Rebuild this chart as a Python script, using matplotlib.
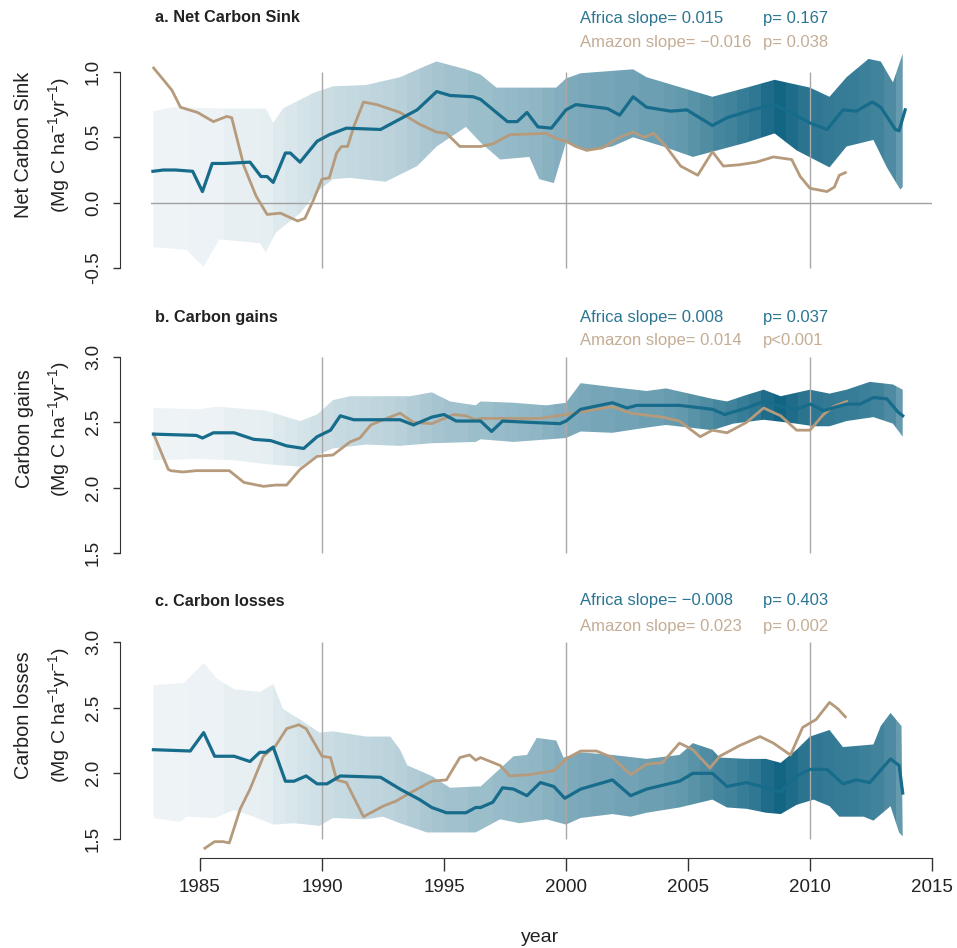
import numpy as np
import matplotlib
matplotlib.use('Agg')
import matplotlib.pyplot as plt
from matplotlib.patches import Polygon
from matplotlib.colors import to_rgb

plt.rcParams['font.family'] = ['Liberation Sans', 'DejaVu Sans']
plt.rcParams['mathtext.fontset'] = 'custom'
plt.rcParams['mathtext.rm'] = 'Liberation Sans'
plt.rcParams['mathtext.it'] = 'Liberation Sans:italic'

# ---- data ----
# a. Net carbon sink
afr_a_year = [1983.07, 1983.5, 1984.0, 1984.7, 1985.1, 1985.5, 1986.0, 1987.05, 1987.5, 1987.75, 1988.0,
              1988.5, 1988.7, 1989.1, 1989.8, 1990.3, 1991.0, 1992.4, 1993.0, 1993.9, 1994.7, 1995.25,
              1996.2, 1996.5, 1997.6, 1998.0, 1998.4, 1998.85, 1999.4, 2000.0, 2000.4, 2001.7, 2002.2,
              2002.75, 2003.3, 2004.3, 2004.95, 2006.0, 2006.6, 2007.65, 2008.5, 2009.0, 2010.0, 2010.7,
              2011.35, 2011.9, 2012.55, 2012.9, 2013.5, 2013.65, 2013.9]
afr_a_val = [0.24, 0.25, 0.25, 0.24, 0.085, 0.30, 0.30, 0.31, 0.20, 0.20, 0.155,
             0.38, 0.38, 0.31, 0.47, 0.52, 0.57, 0.56, 0.62, 0.71, 0.85, 0.82,
             0.81, 0.79, 0.62, 0.62, 0.69, 0.58, 0.57, 0.71, 0.75, 0.72, 0.67,
             0.81, 0.73, 0.70, 0.71, 0.59, 0.65, 0.71, 0.75, 0.71, 0.61, 0.56,
             0.71, 0.70, 0.77, 0.73, 0.56, 0.55, 0.71]
ama_a_year = [1983.1, 1983.5, 1983.85, 1984.2, 1984.9, 1985.55, 1986.1, 1986.3, 1986.8, 1987.3, 1987.75,
              1988.3, 1989.0, 1989.3, 1989.65, 1990.0, 1990.3, 1990.6, 1990.8, 1991.05, 1991.3, 1991.7,
              1992.25, 1993.2, 1994.0, 1994.7, 1995.1, 1995.65, 1996.5, 1997.0, 1997.7, 1999.2, 1999.6,
              2000.0, 2000.4, 2000.85, 2001.5, 2002.2, 2002.75, 2003.2, 2003.6, 2004.1, 2004.7, 2005.4,
              2005.8, 2006.0, 2006.45, 2007.1, 2007.8, 2008.5, 2009.25, 2009.6, 2010.0, 2010.7, 2011.0,
              2011.2, 2011.45]
ama_a_val = [1.03, 0.94, 0.86, 0.73, 0.69, 0.62, 0.66, 0.65, 0.28, 0.05, -0.09,
             -0.08, -0.14, -0.12, 0.02, 0.18, 0.19, 0.38, 0.43, 0.43, 0.58, 0.77,
             0.75, 0.69, 0.60, 0.54, 0.53, 0.43, 0.43, 0.45, 0.52, 0.53, 0.49,
             0.47, 0.43, 0.40, 0.42, 0.50, 0.54, 0.50, 0.53, 0.43, 0.28, 0.21,
             0.33, 0.39, 0.28, 0.29, 0.31, 0.35, 0.33, 0.20, 0.11, 0.085, 0.12,
             0.21, 0.23]
upr_a_year = [1983.09, 1983.9, 1985.8, 1987.7, 1988.0, 1988.4, 1989.65, 1990.45, 1991.8, 1993.2, 1994.3,
              1994.7, 1995.9, 1996.5, 1997.15, 1999.6, 2000.0, 2000.6, 2002.75, 2003.3, 2006.0, 2007.4,
              2008.55, 2010.0, 2010.8, 2011.5, 2012.4, 2012.9, 2013.4, 2013.8]
upr_a_val = [0.70, 0.73, 0.72, 0.72, 0.61, 0.72, 0.84, 0.89, 0.90, 0.96, 1.05,
             1.08, 1.02, 0.98, 0.88, 0.88, 0.95, 0.99, 1.02, 0.96, 0.81, 0.88,
             0.94, 0.88, 0.81, 0.96, 1.10, 1.08, 0.92, 1.14]
lwr_a_year = [1983.09, 1984.45, 1985.14, 1985.8, 1987.45, 1987.7, 1988.1, 1989.1, 1989.9, 1990.45, 1991.15,
              1992.6, 1993.9, 1994.7, 1995.9, 1996.2, 1996.5, 1997.3, 1998.5, 1998.9, 1999.5, 2000.0,
              2000.95, 2001.9, 2002.75, 2003.98, 2005.2, 2006.0, 2007.4, 2008.55, 2009.45, 2010.8, 2011.5,
              2012.6, 2013.15, 2013.7, 2013.8]
lwr_a_val = [-0.34, -0.36, -0.49, -0.28, -0.31, -0.38, -0.23, -0.08, 0.10, 0.18, 0.19,
             0.16, 0.28, 0.43, 0.58, 0.52, 0.46, 0.33, 0.35, 0.18, 0.15, 0.46,
             0.40, 0.43, 0.50, 0.43, 0.35, 0.39, 0.46, 0.53, 0.40, 0.27, 0.43,
             0.48, 0.27, 0.10, 0.12]

# b. Carbon gains
afr_b_year = [1983.09, 1984.85, 1985.1, 1985.55, 1986.4, 1987.2, 1987.9, 1988.55, 1989.25, 1989.8, 1990.35,
              1990.75, 1991.3, 1993.2, 1993.75, 1994.5, 1995.0, 1995.5, 1996.3, 1996.5, 1996.95, 1997.4,
              1998.5, 1999.75, 2000.0, 2000.6, 2001.9, 2002.5, 2002.9, 2004.65, 2006.0, 2006.5, 2007.4,
              2008.1, 2008.8, 2009.45, 2010.0, 2010.55, 2011.5, 2012.05, 2012.6, 2013.15, 2013.6, 2013.8]
afr_b_val = [2.41, 2.40, 2.38, 2.42, 2.42, 2.37, 2.36, 2.32, 2.30, 2.39, 2.44,
             2.55, 2.52, 2.52, 2.48, 2.54, 2.56, 2.51, 2.51, 2.51, 2.43, 2.51,
             2.50, 2.49, 2.51, 2.60, 2.65, 2.61, 2.63, 2.63, 2.60, 2.56, 2.61,
             2.66, 2.62, 2.60, 2.64, 2.59, 2.64, 2.64, 2.69, 2.68, 2.58, 2.55]
ama_b_year = [1983.1, 1983.7, 1983.8, 1984.3, 1984.85, 1986.2, 1986.8, 1987.6, 1988.1, 1988.55, 1989.1,
              1989.8, 1990.45, 1991.15, 1991.55, 1992.0, 1992.65, 1993.2, 1993.75, 1994.5, 1995.4, 1995.9,
              1996.3, 1996.5, 1997.3, 1998.9, 2000.0, 2001.9, 2002.65, 2003.95, 2004.65, 2005.5, 2006.0,
              2006.6, 2007.4, 2008.1, 2008.8, 2009.45, 2010.0, 2010.55, 2010.95, 2011.5]
ama_b_val = [2.41, 2.14, 2.13, 2.12, 2.13, 2.13, 2.04, 2.01, 2.02, 2.02, 2.14,
             2.24, 2.25, 2.35, 2.38, 2.48, 2.53, 2.57, 2.50, 2.49, 2.56, 2.55,
             2.52, 2.53, 2.53, 2.53, 2.56, 2.62, 2.57, 2.54, 2.51, 2.39, 2.44,
             2.42, 2.50, 2.61, 2.55, 2.44, 2.44, 2.56, 2.62, 2.66]
upr_b_year = [1983.09, 1984.95, 1985.7, 1987.7, 1989.1, 1989.8, 1990.45, 1991.15, 1992.5, 1993.6, 1994.5,
              1995.25, 1996.3, 1996.5, 1997.85, 1999.2, 2000.0, 2000.6, 2001.9, 2003.3, 2004.1, 2006.0,
              2006.6, 2007.4, 2008.1, 2008.8, 2010.0, 2010.8, 2011.5, 2012.45, 2013.4, 2013.8]
upr_b_val = [2.61, 2.60, 2.62, 2.59, 2.51, 2.56, 2.67, 2.70, 2.70, 2.70, 2.73,
             2.66, 2.63, 2.66, 2.65, 2.63, 2.65, 2.80, 2.77, 2.74, 2.76, 2.68,
             2.66, 2.71, 2.75, 2.70, 2.75, 2.72, 2.75, 2.81, 2.79, 2.75]
lwr_b_year = [1983.09, 1984.95, 1986.4, 1987.7, 1989.1, 1989.8, 1990.45, 1991.8, 1993.2, 1994.5, 1996.3,
              1996.5, 1997.85, 2000.0, 2000.6, 2001.9, 2003.3, 2004.1, 2006.0, 2006.85, 2008.1, 2009.45,
              2010.15, 2010.8, 2011.5, 2012.6, 2013.4, 2013.8]
lwr_b_val = [2.21, 2.22, 2.21, 2.18, 2.16, 2.25, 2.30, 2.33, 2.32, 2.34, 2.35,
             2.37, 2.35, 2.38, 2.43, 2.42, 2.46, 2.48, 2.44, 2.49, 2.52, 2.49,
             2.47, 2.47, 2.51, 2.54, 2.49, 2.39]

# c. Carbon losses
afr_c_year = [1983.09, 1984.6, 1985.15, 1985.6, 1986.4, 1987.05, 1987.45, 1987.7, 1988.0, 1988.5, 1988.85,
              1989.35, 1989.8, 1990.2, 1990.75, 1992.4, 1993.2, 1994.0, 1994.5, 1995.1, 1995.9, 1996.3,
              1996.5, 1997.0, 1997.4, 1997.85, 1998.4, 1998.95, 1999.5, 1999.95, 2000.6, 2001.9, 2002.65,
              2003.3, 2004.65, 2005.2, 2006.0, 2006.6, 2007.4, 2008.2, 2008.8, 2009.45, 2010.0, 2010.7,
              2011.35, 2011.9, 2012.45, 2013.3, 2013.65, 2013.8]
afr_c_val = [2.18, 2.17, 2.31, 2.13, 2.13, 2.09, 2.16, 2.16, 2.20, 1.94, 1.94,
             1.98, 1.92, 1.92, 1.98, 1.97, 1.88, 1.80, 1.74, 1.70, 1.70, 1.74,
             1.74, 1.78, 1.89, 1.88, 1.83, 1.93, 1.90, 1.81, 1.88, 1.95, 1.83,
             1.88, 1.94, 2.00, 2.00, 1.90, 1.93, 1.89, 1.86, 1.98, 2.03, 2.03,
             1.92, 1.95, 1.93, 2.11, 2.06, 1.85]
ama_c_year = [1985.2, 1985.6, 1985.95, 1986.2, 1986.65, 1987.05, 1987.6, 1988.1, 1988.55, 1989.05, 1989.35,
              1990.0, 1990.35, 1990.6, 1991.0, 1991.35, 1991.7, 1992.0, 1992.5, 1993.05, 1993.6, 1994.5,
              1995.1, 1995.65, 1996.05, 1996.3, 1996.5, 1997.3, 1997.7, 1998.5, 1999.5, 2000.0, 2000.6,
              2001.25, 2001.9, 2002.65, 2003.3, 2003.95, 2004.65, 2005.2, 2005.9, 2006.3, 2007.1, 2007.95,
              2008.5, 2009.2, 2009.7, 2010.25, 2010.8, 2011.15, 2011.45]
ama_c_val = [1.43, 1.48, 1.48, 1.47, 1.73, 1.88, 2.13, 2.21, 2.34, 2.37, 2.34,
             2.13, 2.12, 1.95, 1.93, 1.80, 1.67, 1.70, 1.75, 1.79, 1.85, 1.94,
             1.95, 2.12, 2.14, 2.10, 2.12, 2.06, 1.98, 1.99, 2.02, 2.11, 2.17,
             2.17, 2.12, 1.99, 2.07, 2.08, 2.23, 2.18, 2.04, 2.13, 2.21, 2.28,
             2.23, 2.14, 2.35, 2.41, 2.54, 2.49, 2.43]
upr_c_year = [1983.09, 1984.35, 1985.15, 1985.7, 1986.4, 1987.45, 1988.0, 1988.4, 1989.1, 1989.9, 1990.45,
              1991.8, 1992.8, 1993.2, 1993.5, 1994.5, 1995.25, 1996.3, 1996.5, 1997.85, 1998.4, 1998.8,
              1999.6, 1999.9, 2000.6, 2001.9, 2003.3, 2004.65, 2005.2, 2006.0, 2006.3, 2007.4, 2008.2,
              2008.8, 2009.45, 2010.0, 2010.8, 2011.35, 2012.6, 2012.9, 2013.3, 2013.75]
upr_c_val = [2.67, 2.69, 2.84, 2.72, 2.64, 2.62, 2.68, 2.49, 2.41, 2.31, 2.32,
             2.28, 2.28, 2.18, 2.06, 1.98, 1.89, 1.90, 1.90, 2.13, 2.14, 2.27,
             2.25, 2.12, 2.16, 2.14, 2.11, 2.14, 2.23, 2.18, 2.12, 2.11, 2.11,
             2.08, 2.18, 2.28, 2.33, 2.20, 2.22, 2.36, 2.46, 2.36]
lwr_c_year = [1983.09, 1984.2, 1984.45, 1985.6, 1986.4, 1987.2, 1988.0, 1988.85, 1989.9, 1990.45, 1991.8,
              1992.5, 1993.2, 1994.3, 1995.25, 1996.3, 1996.5, 1997.3, 1998.1, 1999.2, 2000.0, 2000.6,
              2001.9, 2002.65, 2003.3, 2004.65, 2006.0, 2006.6, 2007.4, 2008.2, 2008.8, 2009.45, 2010.15,
              2010.8, 2011.2, 2012.2, 2012.6, 2013.3, 2013.65, 2013.8]
lwr_c_val = [1.66, 1.63, 1.67, 1.66, 1.72, 1.67, 1.61, 1.62, 1.60, 1.66, 1.65,
             1.67, 1.62, 1.55, 1.55, 1.55, 1.57, 1.65, 1.62, 1.65, 1.61, 1.66,
             1.69, 1.67, 1.70, 1.74, 1.80, 1.74, 1.73, 1.70, 1.69, 1.76, 1.80,
             1.75, 1.67, 1.67, 1.64, 1.75, 1.55, 1.52]

# shading intensity of the Africa band, one value per half year from 1983 to 2014
shade_alpha = [0.07, 0.07, 0.07, 0.08, 0.08, 0.08, 0.10, 0.10, 0.10, 0.11,
               0.14, 0.16, 0.18, 0.20, 0.22, 0.24, 0.25, 0.26, 0.27, 0.28,
               0.30, 0.33, 0.36, 0.38, 0.40, 0.40, 0.42, 0.42, 0.44, 0.45,
               0.46, 0.47, 0.50, 0.52, 0.55, 0.56, 0.58, 0.58, 0.60, 0.60,
               0.62, 0.62, 0.64, 0.66, 0.70, 0.74, 0.78, 0.80, 0.84, 0.88,
               0.95, 1.00, 0.95, 0.90, 0.88, 0.86, 0.85, 0.84, 0.82, 0.80,
               0.75, 0.65]

titles = ['a. Net Carbon Sink', 'b. Carbon gains', 'c. Carbon losses']
ylabels = ['Net Carbon Sink', 'Carbon gains', 'Carbon losses']
afr_slope = ['0.015', '0.008', '\u22120.008']
afr_p = ['p= 0.167', 'p= 0.037', 'p= 0.403']
ama_slope = ['\u22120.016', '0.014', '0.023']
ama_p = ['p= 0.038', 'p<0.001', 'p= 0.002']
yticks = [[-0.5, 0.0, 0.5, 1.0], [1.5, 2.0, 2.5, 3.0], [1.5, 2.0, 2.5, 3.0]]
xticks = [1985, 1990, 1995, 2000, 2005, 2010, 2015]

AFR = '#176c8b'
AMA = '#b69a7c'
AFR_TXT = '#2b7592'
AMA_TXT = '#c4ad95'
BAND = '#136584'

W, H = 957, 948
fig = plt.figure(figsize=(W / 100, H / 100), dpi=100)

# pixel layout: (top, bottom) of each plotting region
regions = [(64.1, 275.9), (349.2, 560.8), (634.1, 846.9)]
title_y = [18, 317, 601]
row2_y = [43, 341, 627]
label_y = [145, 429, 715]

base = np.array(to_rgb(BAND))
sa = np.array(shade_alpha)[:, None]
shade_img = (1 - sa) + sa * base
shade_img = shade_img[None, :, :]

panels = [
    (afr_a_year, afr_a_val, ama_a_year, ama_a_val, upr_a_year, upr_a_val, lwr_a_year, lwr_a_val),
    (afr_b_year, afr_b_val, ama_b_year, ama_b_val, upr_b_year, upr_b_val, lwr_b_year, lwr_b_val),
    (afr_c_year, afr_c_val, ama_c_year, ama_c_val, upr_c_year, upr_c_val, lwr_c_year, lwr_c_val),
]

for i, (ay, av, my, mv, uy, uv, ly, lv) in enumerate(panels):
    top, bot = regions[i]
    ax = fig.add_axes([151.2 / W, 1 - bot / H, 780.8 / W, (bot - top) / H])
    lo, hi = yticks[i][0], yticks[i][-1]
    pad = 0.04 * (hi - lo)
    ylim = (lo - pad, hi + pad)

    verts = list(zip(uy, uv)) + list(zip(ly[::-1], lv[::-1]))
    poly = Polygon(verts, closed=True, facecolor='none', edgecolor='none')
    ax.add_patch(poly)
    im = ax.imshow(shade_img, extent=(1983, 2014, lo - 1, hi + 1), aspect='auto',
                   interpolation='nearest', zorder=1)
    im.set_clip_box(fig.bbox)
    im.set_clip_path(poly)

    ax.vlines([1990, 2000, 2010], lo, hi, color='#a8a8a8', lw=1.0, zorder=2)
    if i == 0:
        ax.axhline(0, color='#a0a0a0', lw=1.0, zorder=2)

    ax.plot(my, mv, color=AMA, lw=2.0, zorder=3, solid_joinstyle='round', clip_on=False)
    ax.plot(ay, av, color=AFR, lw=2.3, zorder=4, solid_joinstyle='round')

    ax.set_xlim(1983, 2015)
    ax.set_ylim(*ylim)
    for s in ['top', 'right']:
        ax.spines[s].set_visible(False)
    ax.spines['left'].set_position(('outward', 22.5))
    ax.spines['left'].set_bounds(lo, hi)
    ax.spines['left'].set_color('#333333')
    ax.set_yticks(yticks[i])
    ax.set_yticklabels(['%.1f' % t for t in yticks[i]], rotation=90, va='center')
    ax.tick_params(axis='y', length=5, width=1, colors='#333333', labelsize=13.5,
                   labelcolor='#222222', pad=8)
    if i < 2:
        ax.spines['bottom'].set_visible(False)
        ax.set_xticks([])
    else:
        ax.spines['bottom'].set_position(('outward', 8))
        ax.spines['bottom'].set_bounds(1985, 2015)
        ax.spines['bottom'].set_color('#333333')
        ax.set_xticks(xticks)
        ax.tick_params(axis='x', length=9, width=1, colors='#333333', labelsize=13.5,
                       labelcolor='#222222', pad=6)

    fig.text(155 / W, 1 - title_y[i] / H, titles[i], fontsize=11.7, fontweight='bold',
             ha='left', va='center', color='#222222')
    fig.text(580 / W, 1 - title_y[i] / H, 'Africa slope= ' + afr_slope[i], fontsize=12,
             ha='left', va='center', color=AFR_TXT)
    fig.text(763 / W, 1 - title_y[i] / H, afr_p[i], fontsize=12,
             ha='left', va='center', color=AFR_TXT)
    fig.text(580 / W, 1 - row2_y[i] / H, 'Amazon slope= ' + ama_slope[i], fontsize=12,
             ha='left', va='center', color=AMA_TXT)
    fig.text(763 / W, 1 - row2_y[i] / H, ama_p[i], fontsize=12,
             ha='left', va='center', color=AMA_TXT)

    fig.text(24 / W, 1 - label_y[i] / H, ylabels[i], fontsize=14.3, rotation=90,
             ha='center', va='center', color='#222222')
    fig.text(59 / W, 1 - label_y[i] / H,
             r'(Mg C ha$^{\mathregular{-1}}$yr$^{\mathregular{-1}}$)', fontsize=14,
             rotation=90, ha='center', va='center', color='#222222')

fig.text(540 / W, 1 - 937 / H, 'year', fontsize=14, ha='center', va='center', color='#222222')

fig.savefig('out.png', dpi=100)
